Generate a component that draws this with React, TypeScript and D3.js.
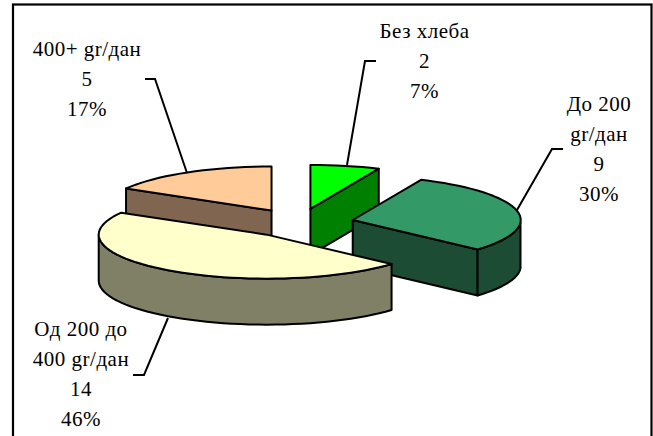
import React from "react";
import * as d3 from "d3";

const categories = ["Без хлеба", "До 200 gr/дан", "Од 200 до 400 gr/дан", "400+ gr/дан"];
const values = [2, 9, 14, 5];
const percents = ["7%", "30%", "46%", "17%"];
const labelLines = [["Без хлеба"], ["До 200", "gr/дан"], ["Од 200 до", "400 gr/дан"], ["400+ gr/дан"]];
const topColors = ["#00FF00", "#339966", "#FFFFCC", "#FFCC99"];
const sideColors = ["#008000", "#1C4C33", "#808066", "#806650"];
const labelPos: [number, number][] = [[424.5, 38], [599, 111], [81, 336], [87, 56]];
const leaders: [number, number][][] = [
  [[376, 61], [365, 61], [347, 165]],
  [[563, 149], [552, 149], [517, 210]],
  [[133, 375], [144, 375], [168, 318]],
  [[145, 79], [155, 79], [187, 173]],
];

const W = 653, H = 436;
const cx = 299, cy = 223, rx = 168, ry = 44, depth = 46, explode = 54.6 / 167;
const draw = [0, 1, 3, 2];

const X = d3.scaleLinear().domain([-1, 1]).range([-rx, rx]);
const Y = d3.scaleLinear().domain([-1, 1]).range([-ry, ry]);
const rim = (a: number): [number, number] => [X(Math.sin(a)), Y(-Math.cos(a))];

export default function App() {
  const arcs = d3.pie<number>().sort(null)(values);
  const line = d3.line();
  return (
    <svg width={W} height={H} style={{ position: "absolute", left: 0, top: 0 }} fontFamily="'Liberation Serif'">
      <rect x={13} y={4.5} width={638.5} height={H + 20} fill="#fff" stroke="#000" strokeWidth={2.2} />
      {draw.map((i) => {
        const { startAngle: s, endAngle: e } = arcs[i];
        const m = (s + e) / 2;
        const [ox, oy] = rim(m);
        const ax = cx + ox * explode, ay = cy + oy * explode;
        const step = (3 * Math.PI) / 180;
        const angles = d3.range(s, e, step).concat(e);
        const rimPts: [number, number][] = angles.map((a) => {
          const [x, y] = rim(a);
          return [ax + x, ay + y];
        });
        const down = (p: [number, number]): [number, number] => [p[0], p[1] + depth];
        const faces: [number, number][][] = [];
        const apex: [number, number] = [ax, ay];
        const p0 = rimPts[0], p1 = rimPts[rimPts.length - 1];
        if (Math.sin(s) < -1e-6) faces.push([apex, p0, down(p0), down(apex)]);
        if (Math.sin(e) > 1e-6) faces.push([apex, p1, down(p1), down(apex)]);
        const front = rimPts.filter((_, k) => Math.cos(angles[k]) <= 0);
        if (front.length > 1) {
          const extra = [...front].reverse().map(down);
          faces.push([...front, ...extra]);
        }
        return (
          <g key={categories[i]} stroke="#000" strokeWidth={2} strokeLinejoin="round">
            {faces.map((f, k) => (
              <path key={k} d={line(f) + "Z"} fill={sideColors[i]} />
            ))}
            <path d={line([apex, ...rimPts]) + "Z"} fill={topColors[i]} />
          </g>
        );
      })}
      {leaders.map((l, i) => (
        <path key={i} d={line(l) ?? ""} fill="none" stroke="#000" strokeWidth={2} />
      ))}
      {categories.map((c, i) => {
        const rows = [...labelLines[i], String(values[i]), percents[i]];
        return (
          <text key={c} textAnchor="middle" fontSize={21} letterSpacing={0.5} fill="#000">
            {rows.map((r, k) => (
              <tspan key={k} x={labelPos[i][0]} y={labelPos[i][1] + k * 30}>{r}</tspan>
            ))}
          </text>
        );
      })}
    </svg>
  );
}
